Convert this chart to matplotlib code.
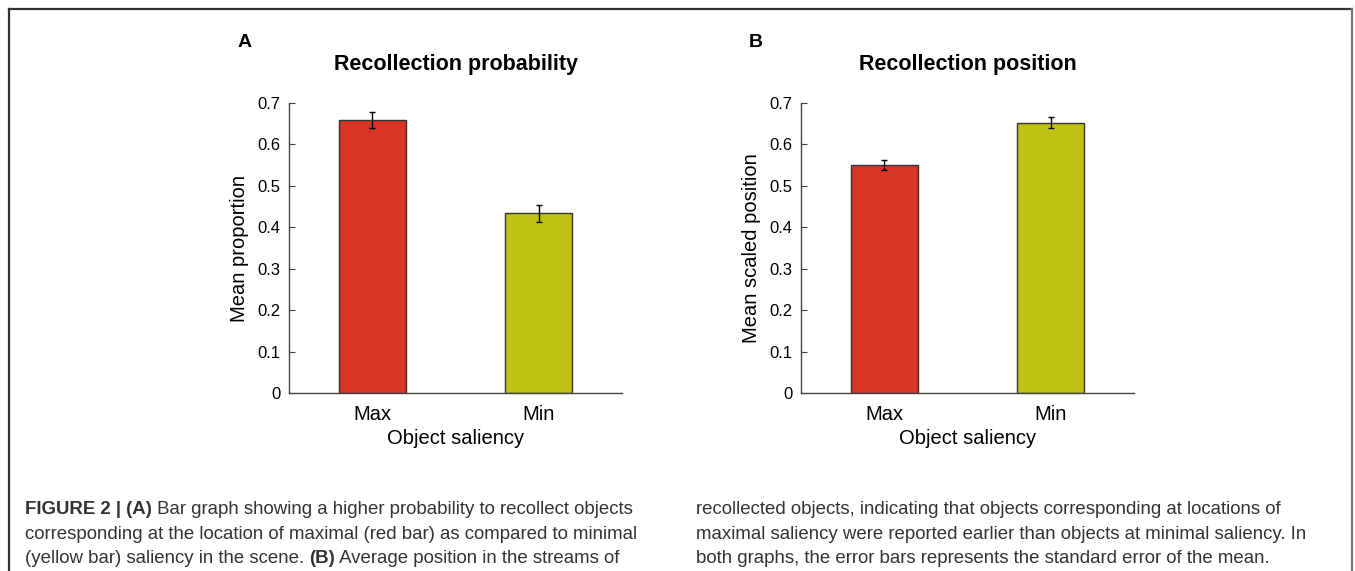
"""Figure 2: recollection probability / position by object saliency."""

import matplotlib

matplotlib.use("Agg")
import matplotlib.pyplot as plt
from matplotlib.transforms import Affine2D

plt.rcParams["font.family"] = ["Liberation Sans", "DejaVu Sans"]

categories = ["Max", "Min"]
bar_colors = ["#d63426", "#c0c213"]

prob_mean = [0.659, 0.434]
prob_sem = [0.019, 0.021]

pos_mean = [0.551, 0.652]
pos_sem = [0.0125, 0.0135]

panels = [
    ("A", "Recollection probability", "Mean proportion", prob_mean, prob_sem),
    ("B", "Recollection position", "Mean scaled position", pos_mean, pos_sem),
]
ytick_vals = [0, 0.1, 0.2, 0.3, 0.4, 0.5, 0.6, 0.7]
ytick_labels = ["0", "0.1", "0.2", "0.3", "0.4", "0.5", "0.6", "0.7"]

caption_left = [
    [("FIGURE 2 | (A)", True), (" Bar graph showing a higher probability to recollect objects", False)],
    [("corresponding at the location of maximal (red bar) as compared to minimal", False)],
    [("(yellow bar) saliency in the scene. ", False), ("(B)", True), (" Average position in the streams of", False)],
]
caption_right = [
    [("recollected objects, indicating that objects corresponding at locations of", False)],
    [("maximal saliency were reported earlier than objects at minimal saliency. In", False)],
    [("both graphs, the error bars represents the standard error of the mean.", False)],
]

W, H = 1355, 571
fig = plt.figure(figsize=(W / 100, H / 100), dpi=100)

# outer frame of the figure panel (no bottom edge)
frame_color = "#333333"
fig.add_artist(plt.Line2D([9 / W, 9 / W], [0, 1 - 9 / H], color=frame_color, lw=1.6))
fig.add_artist(plt.Line2D([9 / W, 1352 / W], [1 - 9 / H, 1 - 9 / H], color=frame_color, lw=1.6))
fig.add_artist(plt.Line2D([1352 / W, 1352 / W], [0, 1 - 9 / H], color="#777777", lw=1.6))

axes_left = [289, 801]
for (letter, title, ylabel, means, sems), left in zip(panels, axes_left):
    ax = fig.add_axes([left / W, (H - 393) / H, 333 / W, 290 / H])
    x = [1, 2]
    ax.bar(x, means, width=0.4, color=bar_colors, edgecolor="#333333", linewidth=1.0, zorder=2)
    ax.errorbar(x, means, yerr=sems, fmt="none", ecolor="black", elinewidth=1.0,
                capsize=2.5, capthick=1.0, zorder=3)
    ax.set_xlim(0.5, 2.5)
    ax.set_ylim(0, 0.7)
    ax.set_xticks(x)
    ax.set_xticklabels(categories, fontsize=14.5)
    ax.set_yticks(ytick_vals)
    ax.set_yticklabels(ytick_labels, fontsize=12)
    ax.tick_params(axis="y", direction="in", length=4, width=0.8, color="#444444", pad=6)
    ax.tick_params(axis="x", length=0, pad=9)
    for s in ("top", "right"):
        ax.spines[s].set_visible(False)
    for s in ("left", "bottom"):
        ax.spines[s].set_color("#444444")
        ax.spines[s].set_linewidth(1.0)
    ax.set_xlabel("Object saliency", fontsize=14.5, labelpad=3)
    ax.set_ylabel(ylabel, fontsize=14.5, labelpad=6)
    ax.set_title(title, fontsize=15.5, fontweight="bold", pad=24)
    ax.text(-0.156, 1.208, letter, transform=ax.transAxes, fontsize=14, fontweight="bold",
            ha="left", va="center")

# caption: two columns, bold runs placed right after the previous run
cap_color = "#333333"
cap_size = 13.4
line_y = [509, 534, 558]
renderer = fig.canvas.get_renderer()
for x0, lines in ((25, caption_left), (696, caption_right)):
    for yy, runs in zip(line_y, lines):
        xpix = x0
        for txt, bold in runs:
            t = fig.text(0, 0, txt, fontsize=cap_size, color=cap_color,
                         fontweight="bold" if bold else "normal", va="baseline", ha="left",
                         transform=Affine2D().translate(xpix, H - yy - 5))
            xpix += t.get_window_extent(renderer).width

fig.savefig("out.png", dpi=100)
